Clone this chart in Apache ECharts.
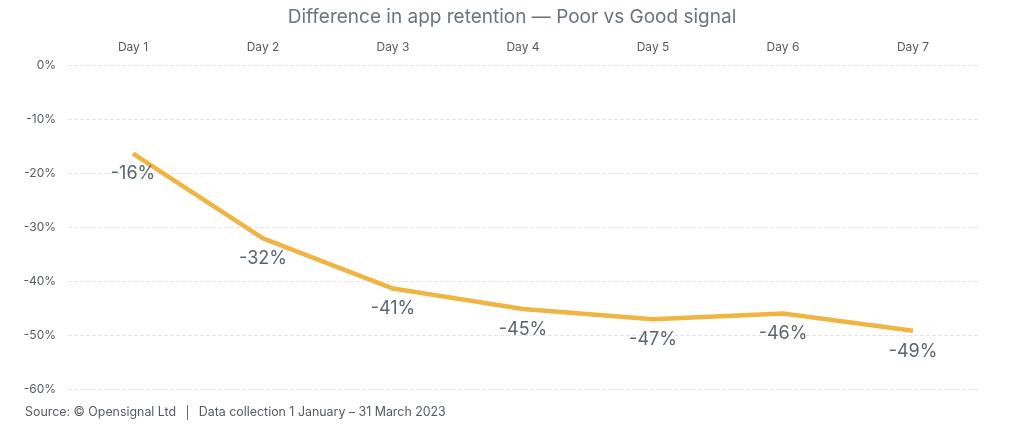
<!DOCTYPE html>
<html><head><meta charset="utf-8">
<script src="https://cdn.jsdelivr.net/npm/echarts@6/dist/echarts.min.js"></script>
<style>html,body{margin:0;padding:0;background:#fff}#c{width:1024px;height:443px}</style>
</head><body><div id="c"></div>
<script>
const days = ['Day 1','Day 2','Day 3','Day 4','Day 5','Day 6','Day 7'];
const retentionDiff = [-16.4, -32.1, -41.4, -45.2, -47.1, -46.0, -49.2];
const titleText = 'Difference in app retention \u2014 Poor vs Good signal';
const sourceText = 'Source: \u00a9 Opensignal Ltd  \u2502  Data collection 1 January \u2013 31 March 2023';

const chart = echarts.init(document.getElementById('c'));
chart.setOption({
  animation: false,
  textStyle: { fontFamily: 'Inter' },
  title: [{
    text: titleText, left: 'center', top: 3,
    textStyle: { fontSize: 19, fontWeight: 'normal', color: '#6b747c', fontFamily: 'Inter' }
  }, {
    text: sourceText, left: 20, top: 401,
    textStyle: { fontSize: 12.4, fontWeight: 'normal', color: '#555b61', fontFamily: 'Inter' }
  }],
  grid: { left: 68, right: 46, top: 65, bottom: 54 },
  xAxis: {
    type: 'category', data: days, position: 'top', boundaryGap: true,
    axisLine: { show: false }, axisTick: { show: false },
    axisLabel: { color: '#555b61', fontSize: 12, margin: 12 }
  },
  yAxis: {
    type: 'value', min: -60, max: 0, interval: 10,
    axisLine: { show: false }, axisTick: { show: false },
    axisLabel: { color: '#555b61', fontSize: 12, margin: 12, formatter: v => v + '%' },
    splitLine: { lineStyle: { color: '#e6e6e6', type: 'dashed', width: 1 } }
  },
  series: [{
    type: 'line', data: retentionDiff, symbol: 'circle', symbolSize: 1, showAllSymbol: true,
    itemStyle: { color: 'rgba(0,0,0,0)' },
    lineStyle: { color: '#f0b443', width: 4.5 },
    label: {
      show: true, position: 'bottom', distance: 11,
      color: '#5a6570', fontSize: 18,
      formatter: p => Math.round(p.value) + '%'
    }
  }]
});
</script></body></html>
